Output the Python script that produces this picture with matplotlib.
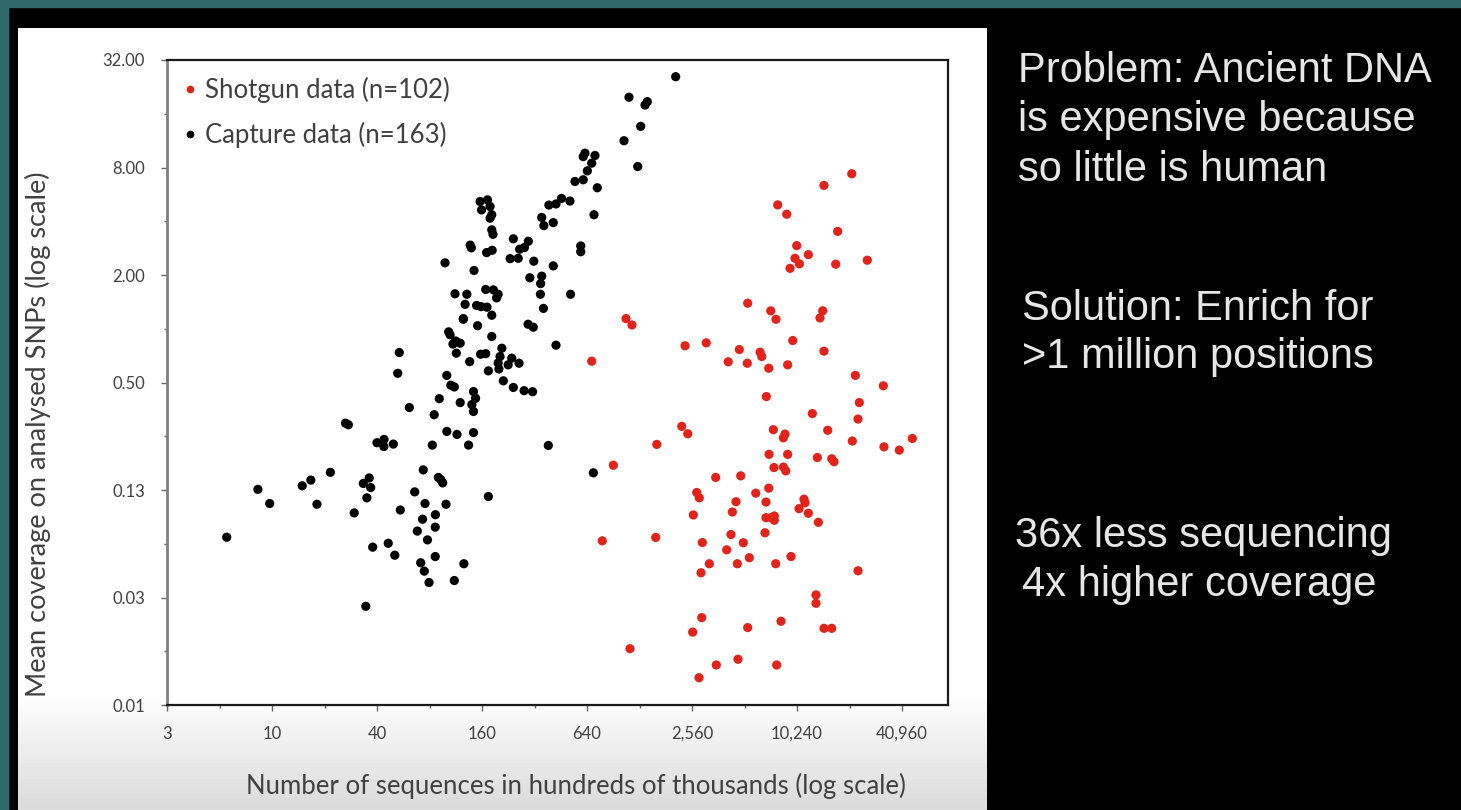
import numpy as np
import matplotlib.pyplot as plt
from matplotlib.lines import Line2D
from matplotlib.patches import Rectangle
from matplotlib.ticker import NullFormatter

plt.rcParams['font.family'] = ['Lato', 'DejaVu Sans']

# capture data (black), x = sequences (hundreds of thousands), y = mean coverage
capture_x = [5.5, 8.3, 9.7, 14.9, 16.7, 18.1, 21.6, 26.4, 27.4, 29.6,
             33.4, 36.1, 36.8, 35.0, 34.5, 37.8, 40, 43.9, 43.8, 49.6,
             46.4, 50.6, 53.7, 52.6, 54.4, 61.3, 65.8, 68.1, 71.2, 74.7,
             79.5, 73.0, 75.4, 73.7, 77.9, 83.0, 85.1, 86.5, 86.3, 86.3,
             89.9, 92.8, 95.2, 91.0, 99.5, 100.5, 106, 111, 100.6, 115,
             103, 105, 109, 113, 120, 114, 111, 120, 125, 126,
             128, 134, 136, 143, 147, 140, 143, 143, 149, 158,
             171, 151, 157, 168, 174, 174, 182, 182, 208, 203,
             198, 200, 226, 237, 261, 212, 242, 279, 312, 294,
             315, 360, 384, 98.2, 156, 172, 159, 178, 182, 178,
             182, 185, 137, 139, 170, 183, 144, 112, 131, 168,
             186, 198, 194, 125, 242, 295, 263, 280, 232, 258,
             317, 352, 362, 410, 387, 425, 457, 511, 410, 301,
             352, 347, 346, 515, 425, 623, 609, 711, 681, 643,
             609, 546, 733, 702, 589, 589, 696, 2064, 1114, 1377,
             1419, 1300, 1043, 1250]
capture_y = [0.068, 0.126, 0.105, 0.132, 0.142, 0.104, 0.157, 0.296, 0.290, 0.093,
             0.136, 0.146, 0.129, 0.113, 0.0279, 0.0598, 0.230, 0.240, 0.219, 0.226,
             0.0629, 0.0539, 0.736, 0.563, 0.0966, 0.362, 0.122, 0.0736, 0.0489, 0.0439,
             0.0379, 0.0858, 0.105, 0.162, 0.0657, 0.223, 0.330, 0.0909, 0.0774, 0.0530,
             0.147, 0.143, 0.137, 0.406, 0.104, 0.548, 0.483, 0.472, 0.266, 0.256,
             0.961, 0.925, 0.821, 0.854, 0.830, 0.730, 0.0389, 0.386, 1.13, 0.0483,
             1.37, 0.223, 0.654, 0.445, 0.408, 0.376, 0.344, 0.262, 1.35, 1.33,
             1.32, 1.04, 0.720, 0.725, 0.115, 0.581, 1.19, 0.905, 0.778, 0.699,
             0.643, 0.595, 0.628, 0.684, 0.641, 0.511, 0.469, 0.450, 0.444, 1.06,
             1.02, 1.30, 0.222, 2.34, 5.16, 5.27, 4.63, 4.84, 4.35, 4.16,
             3.58, 3.38, 2.94, 2.84, 2.67, 2.75, 2.12, 1.57, 1.56, 1.66,
             1.65, 1.56, 1.49, 1.14, 3.19, 3.09, 2.79, 2.85, 2.47, 2.48,
             2.39, 4.2, 3.78, 3.93, 4.93, 5.00, 5.37, 5.19, 2.25, 1.93,
             1.97, 1.79, 1.56, 1.56, 0.809, 9.62, 9.21, 9.34, 8.46, 7.66,
             6.83, 6.68, 6.16, 4.35, 2.91, 2.70, 0.156, 25.8, 19.8, 17.9,
             18.7, 13.6, 11.3, 8.10]

# shotgun data (red)
shotgun_x = [21100, 14620, 7940, 8940, 17520, 10200, 11890, 9970, 10560, 9340,
             17070, 25900, 5340, 7240, 7760, 14380, 13870, 1071, 1159, 9680,
             14620, 2335, 3090, 4780, 6290, 6430, 4130, 5310, 7050, 9050,
             681, 22110, 32000, 6830, 23310, 12540, 22920, 2235, 2420, 7490,
             8740, 8550, 15360, 1608, 21250, 32280, 39520, 46940, 906, 7080,
             9050, 13390, 16190, 16690, 7560, 8550, 8830, 3500, 4870, 2724,
             2818, 5940, 7050, 4577, 6800, 11230, 11380, 2604, 4360, 6800,
             7260, 7590, 7590, 10520, 11890, 13570, 783, 1585, 2934, 4283,
             5038, 6707, 4047, 5455, 3218, 4657, 7730, 9460, 2883, 22920,
             13160, 13160, 2911, 2583, 5340, 8290, 14620, 16190, 1129, 4698,
             3528, 7830, 2808]
shotgun_y = [7.38, 6.35, 4.94, 4.38, 3.51, 2.92, 2.60, 2.48, 2.31, 2.18,
             2.30, 2.42, 1.39, 1.26, 1.13, 1.26, 1.15, 1.14, 1.05, 0.859,
             0.749, 0.803, 0.834, 0.765, 0.739, 0.699, 0.653, 0.641, 0.601, 0.628,
             0.658, 0.548, 0.479, 0.417, 0.386, 0.335, 0.312, 0.284, 0.258, 0.272,
             0.257, 0.245, 0.270, 0.225, 0.235, 0.218, 0.209, 0.243, 0.172, 0.198,
             0.198, 0.190, 0.187, 0.180, 0.167, 0.168, 0.160, 0.147, 0.150, 0.121,
             0.113, 0.120, 0.128, 0.1075, 0.107, 0.111, 0.106, 0.0906, 0.0941, 0.0875,
             0.0875, 0.0894, 0.0846, 0.0983, 0.0926, 0.0824, 0.0649, 0.0678, 0.0635, 0.0704,
             0.0633, 0.0720, 0.0578, 0.0522, 0.0483, 0.0483, 0.0483, 0.0530, 0.0430, 0.0441,
             0.0323, 0.0290, 0.0241, 0.0200, 0.0212, 0.0230, 0.0210, 0.0210, 0.01615, 0.01409,
             0.01309, 0.01309, 0.01111]

# axis ticks (log base 4 as in the original Excel chart)
x_ticks = [2.5, 10, 40, 160, 640, 2560, 10240, 40960]
x_labels = ['3', '10', '40', '160', '640', '2,560', '10,240', '40,960']
x_minor = [5, 20, 80, 320, 1280, 5120, 20480]
y_ticks = [0.0078125, 0.03125, 0.125, 0.5, 2, 8, 32]
y_labels = ['0.01', '0.03', '0.13', '0.50', '2.00', '8.00', '32.00']
y_minor = [0.015625, 0.0625, 0.25, 1, 4, 16]

side_text = [
    ('Problem: Ancient DNA', 1018, 82),
    ('is expensive because', 1018, 131),
    ('so little is human', 1018, 181),
    ('Solution: Enrich for', 1022, 320),
    ('>1 million positions', 1022, 368),
    ('36x less sequencing', 1015, 547),
    ('4x higher coverage', 1022, 596),
]

W, H = 1461, 810
fig = plt.figure(figsize=(W / 100, H / 100), dpi=100, facecolor='black')

# teal slide frame
fig.patches.append(Rectangle((0, 1 - 7 / H), 1, 7 / H, transform=fig.transFigure,
                             color='#2f6a6a', zorder=0))
fig.patches.append(Rectangle((0, 0), 8 / W, 1, transform=fig.transFigure,
                             color='#2f6a6a', zorder=0))

# white panel with a faint grey fade at the bottom
bg = fig.add_axes([18 / W, 0, 969 / W, 782 / H])
bg.axis('off')
fade = np.ones(200)
fade[170:] = np.linspace(1.0, 0.86, 30)
bg.imshow(np.dstack([fade[:, None]] * 3), aspect='auto', extent=(0, 1, 0, 1))

ax = fig.add_axes([167 / W, 105 / H, 781 / W, 645 / H])
ax.set_facecolor('white')
ax.scatter(shotgun_x, shotgun_y, s=44, c='#e0241b', edgecolors='none', zorder=3)
ax.scatter(capture_x, capture_y, s=44, c='black', edgecolors='none', zorder=3)

ax.set_xscale('log', base=4)
ax.set_yscale('log', base=4)
ax.set_xlim(2.5, 40960 * 2 ** (46 / 52.5))
ax.set_ylim(0.0078125, 32)
ax.set_xticks(x_ticks, x_labels)
ax.set_xticks(x_minor, minor=True)
ax.set_yticks(y_ticks, y_labels)
ax.set_yticks(y_minor, minor=True)
ax.xaxis.set_minor_formatter(NullFormatter())
ax.yaxis.set_minor_formatter(NullFormatter())
ax.tick_params(which='major', direction='out', length=4, width=1, color='#666666',
               labelsize=12, labelcolor='#404040')
ax.tick_params(which='minor', direction='out', length=2.5, width=1, color='#666666')
ax.tick_params(axis='x', which='major', pad=11)
ax.tick_params(axis='y', which='major', pad=12)

for side in ['top', 'right', 'bottom']:
    ax.spines[side].set_color('#1a1a1a')
    ax.spines[side].set_linewidth(1.6)
ax.spines['left'].set_color('#808080')
ax.spines['left'].set_linewidth(2)

ax.set_xlabel('Number of sequences in hundreds of thousands (log scale)',
              fontsize=18.5, color='#404040')
ax.xaxis.set_label_coords(0.524, -0.105)
ax.set_ylabel('Mean coverage on analysed SNPs (log scale)', fontsize=19.5, color='#404040')
ax.yaxis.set_label_coords(-0.148, 0.42)

handles = [Line2D([], [], ls='none', marker='o', ms=4.5, color='#e0241b'),
           Line2D([], [], ls='none', marker='o', ms=4.5, color='black')]
leg = ax.legend(handles, ['Shotgun data (n=102)', 'Capture data (n=163)'],
                loc='upper left', bbox_to_anchor=(0.0196, 0.974), frameon=False,
                fontsize=18.5, handlelength=0.6, handletextpad=0.3,
                labelspacing=0.75, borderaxespad=0, borderpad=0)
for t in leg.get_texts():
    t.set_color('#404040')

for txt, px, py in side_text:
    fig.text(px / W, 1 - py / H, txt, color='#e6e6e6', fontsize=30,
             family='Liberation Sans', va='baseline', ha='left')

fig.savefig('out.png', dpi=100, facecolor=fig.get_facecolor())
